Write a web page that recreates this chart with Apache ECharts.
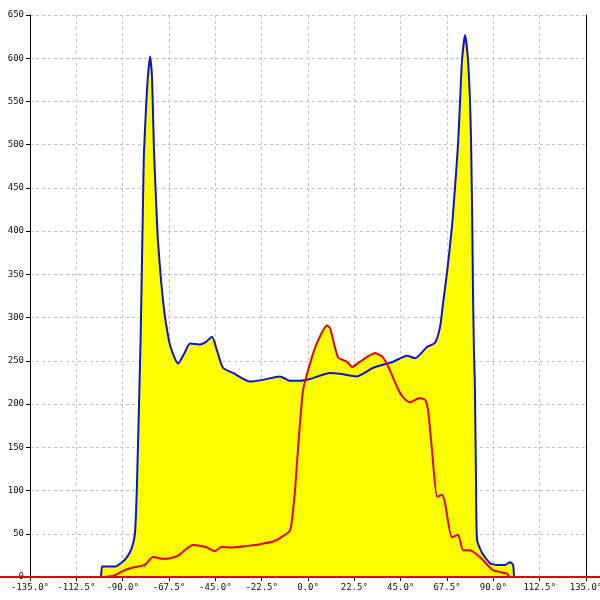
<!DOCTYPE html>
<html>
<head>
<meta charset="utf-8">
<script src="https://cdn.jsdelivr.net/npm/echarts@6/dist/echarts.min.js"></script>
<style>html,body{margin:0;padding:0;background:#fff}#c{width:600px;height:600px}</style>
</head>
<body>
<div id="c"></div>
<script>
// Angles (degrees) and values
const blueAngles = [-100.5,-100.0,-98.6,-93.7,-90.3,-87.9,-85.5,-84.0,-83.0,-81.3,-80.5,-80.1,-79.7,-78.7,-77.7,-76.7,-75.8,-75.3,-74.8,-73.8,-72.9,-71.4,-70.4,-69.4,-67.0,-63.1,-60.2,-57.3,-52.5,-49.5,-46.6,-44.2,-41.3,-36.4,-28.2,-21.9,-13.6,-8.7,-3.9,1.0,10.7,15.5,23.8,31.6,41.3,48.1,52.0,57.8,61.7,64.1,65.6,67.5,69.9,71.4,72.9,73.8,74.8,76.3,77.7,78.7,79.2,79.4,79.8,80.1,80.6,81.0,81.6,82.1,84.5,88.4,91.8,95.7,98.1,99.6,100.0];
const blueValues = [0,12,12,12,17,23,34,51,112,274,382,436,488,540,580,602,580,540,494,436,390,344,320,300,268,247,258,270,269,272,278,262,242,236,226,228,232,227,227,229,236,235,232,242,249,256,253,266,271,289,317,352,405,451,502,548,598,627,598,548,502,470,405,335,259,228,112,43,28,16,14,14,17,14,0];
const redAngles = [-135,-99.6,-93.7,-89.8,-85.0,-79.2,-75.3,-69.5,-63.6,-58.8,-55.9,-50.0,-45.2,-41.8,-37.9,-29.6,-23.3,-17.0,-13.6,-8.7,-7.3,-6.3,-4.9,-2.4,1.0,4.4,9.2,10.7,14.6,18.9,21.4,25.3,32.5,36.4,39.8,43.2,46.1,49.5,54.4,56.8,58.3,60.2,62.7,65.1,66.5,69.9,72.9,75.3,78.7,83.5,89.8,96.6,98.1,135];
const redValues = [0,0,2,7,11,14,23,21,24,33,37,35,30,35,34,36,38,41,45,54,77,100,147,216,247,271,291,288,254,249,243,249,259,254,239,220,208,202,207,205,193,147,93,95,86,46,49,31,31,23,8,4,0,0];
// the red zero baseline runs across the whole picture width
const baselineExtent = [-1, 1];
const baselineValue = 0;
const xTicks = {min: -135, max: 135, step: 22.5};
const yTicks = {min: 0, max: 650, step: 50};

const blueData = blueAngles.map((a, i) => [a, blueValues[i]]);
const redData = redAngles.map((a, i) => [a, redValues[i]]);
const baselineData = baselineExtent.map(a => [a, baselineValue]);

const chart = echarts.init(document.getElementById('c'), null, {renderer: 'canvas'});
const labelFont = {fontFamily: 'DejaVu Sans Mono', fontSize: 9, color: '#111'};
const dashed = {show: true, lineStyle: {color: '#c4c4c4', type: [3, 3], width: 1}};
const sm = 0.2;
chart.setOption({
  animation: false,
  backgroundColor: '#fff',
  grid: [
    {left: 30, right: 14, top: 15, bottom: 23, containLabel: false, outerBoundsMode: 'none'},
    {left: 0, right: 0, top: 15, bottom: 23, containLabel: false, outerBoundsMode: 'none'}
  ],
  xAxis: [{
    type: 'value', gridIndex: 0, min: xTicks.min, max: xTicks.max, interval: xTicks.step,
    axisLine: {show: true, onZero: false, lineStyle: {color: '#000', width: 1}},
    axisTick: {show: true, length: 4, lineStyle: {color: '#000'}},
    axisLabel: Object.assign({formatter: v => v.toFixed(1) + '°', margin: 6, showMinLabel: true, showMaxLabel: true, hideOverlap: false}, labelFont),
    splitLine: dashed
  }, {
    type: 'value', gridIndex: 1, min: baselineExtent[0], max: baselineExtent[1], show: false
  }],
  yAxis: [{
    type: 'value', gridIndex: 0, min: yTicks.min, max: yTicks.max, interval: yTicks.step,
    axisLine: {show: true, onZero: false, lineStyle: {color: '#000', width: 1}},
    axisTick: {show: true, length: 4, lineStyle: {color: '#000'}},
    axisLabel: Object.assign({margin: 6}, labelFont),
    splitLine: dashed
  }, {
    type: 'value', gridIndex: 0, min: yTicks.min, max: yTicks.max, interval: yTicks.step, position: 'right',
    axisLine: {show: true, onZero: false, lineStyle: {color: '#000', width: 1}},
    axisTick: {show: false}, axisLabel: {show: false}, splitLine: {show: false}
  }, {
    type: 'value', gridIndex: 1, min: yTicks.min, max: yTicks.max, show: false
  }],
  series: [
    {type: 'line', data: blueData, smooth: sm, showSymbol: false, lineStyle: {width: 0, opacity: 0}, areaStyle: {color: '#ffff00', opacity: 1}, z: 2, silent: true},
    {type: 'line', data: redData, smooth: sm, showSymbol: false, lineStyle: {width: 0, opacity: 0}, areaStyle: {color: '#ffff00', opacity: 1}, z: 2, silent: true},
    {type: 'line', data: blueData, smooth: sm, showSymbol: false, lineStyle: {width: 2, color: '#0a14c8'}, z: 3, silent: true},
    {type: 'line', xAxisIndex: 1, yAxisIndex: 2, data: baselineData, showSymbol: false, clip: false, lineStyle: {width: 2, color: '#e60000'}, z: 4, silent: true},
    {type: 'line', data: redData, smooth: sm, showSymbol: false, lineStyle: {width: 2, color: '#e60000'}, z: 4, silent: true}
  ]
});
</script>
</body>
</html>
